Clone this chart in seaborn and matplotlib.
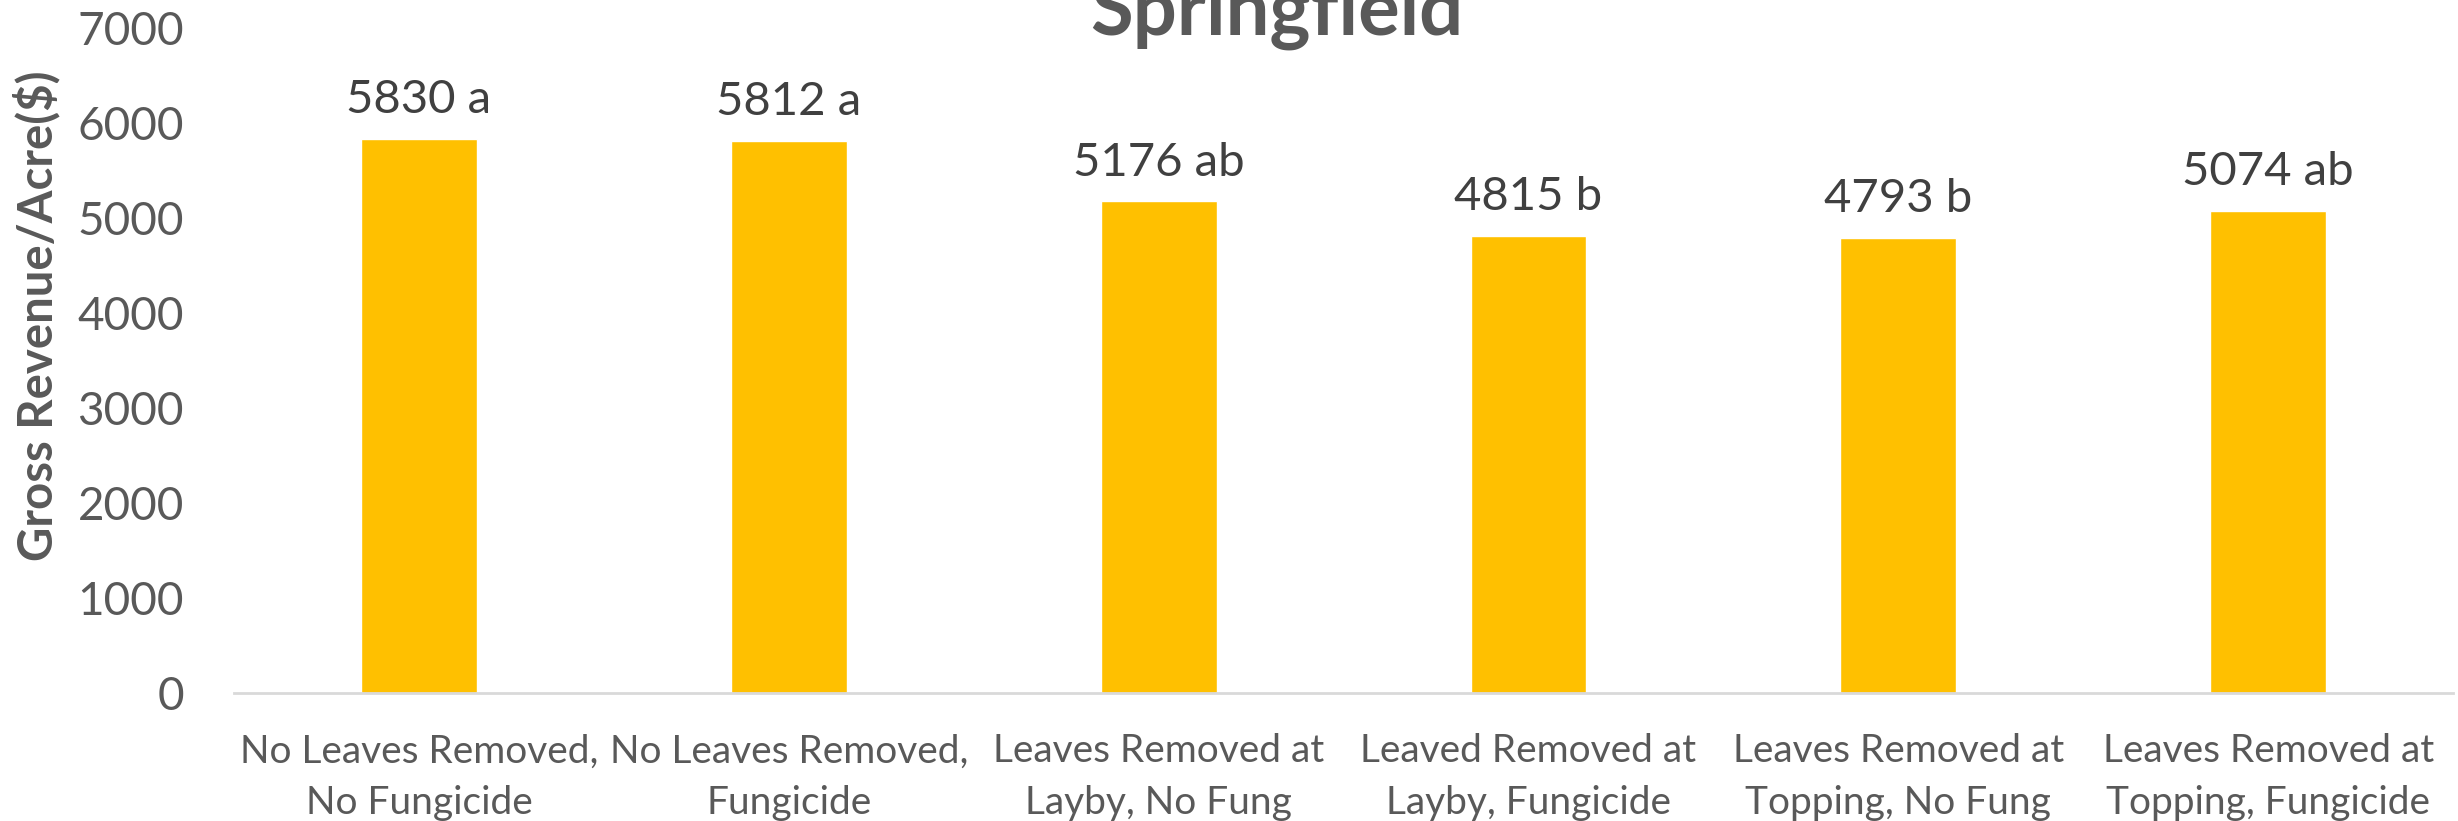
import matplotlib
matplotlib.use("Agg")
import matplotlib.pyplot as plt
import seaborn as sns
import pandas as pd

# ---- data ----
categories = [
    "No Leaves Removed,\nNo Fungicide",
    "No Leaves Removed,\nFungicide",
    "Leaves Removed at\nLayby, No Fung",
    "Leaved Removed at\nLayby, Fungicide",
    "Leaves Removed at\nTopping, No Fung",
    "Leaves Removed at\nTopping, Fungicide",
]
values = [5830, 5812, 5176, 4815, 4793, 5074]
letters = ["a", "a", "ab", "b", "b", "ab"]
yticks = [0, 1000, 2000, 3000, 4000, 5000, 6000, 7000]
title = "Springfield"
ylabel = "Gross Revenue/Acre($)"

df = pd.DataFrame({"cat": categories, "val": values})

sns.set_theme(style="white")
plt.rcParams["font.family"] = ["Lato", "DejaVu Sans"]

DPI = 100
fig = plt.figure(figsize=(24.58, 8.21), dpi=DPI)
ax = fig.add_axes([0.0952, 0.1559, 0.9028, 0.81])

sns.barplot(data=df, x="cat", y="val", color="#FFC000", saturation=1,
            width=0.313, ax=ax, errorbar=None)

ax.set_ylim(0, 7000)
ax.set_xlim(-0.5, len(categories) - 0.5)
ax.set_yticks(yticks)
ax.set_yticklabels([str(t) for t in yticks])
ax.tick_params(axis="y", length=0, pad=36, labelsize=33, labelcolor="#595959")
ax.tick_params(axis="x", length=0, pad=29, labelsize=28, labelcolor="#595959")
for lab in ax.get_xticklabels():
    lab.set_linespacing(1.54)

for s in ["top", "right", "left"]:
    ax.spines[s].set_visible(False)
ax.spines["bottom"].set_color("#D9D9D9")
ax.spines["bottom"].set_linewidth(2)
ax.grid(False)

ax.set_xlabel("")
ax.set_ylabel(ylabel, fontsize=34, fontweight="bold", color="#595959")
ax.yaxis.set_label_coords(-0.078, 0.567)

for i, (v, l) in enumerate(zip(values, letters)):
    ax.annotate(f"{v} {l}", xy=(i, v), xytext=(0, 18.5), textcoords="offset points",
                ha="center", va="baseline", fontsize=34, color="#404040")

fig.text(0.5195, 1 - 35 / 821, title, ha="center", va="baseline",
         fontsize=56, fontweight="bold", color="#595959")

fig.savefig("out.png", dpi=DPI, facecolor="white")
